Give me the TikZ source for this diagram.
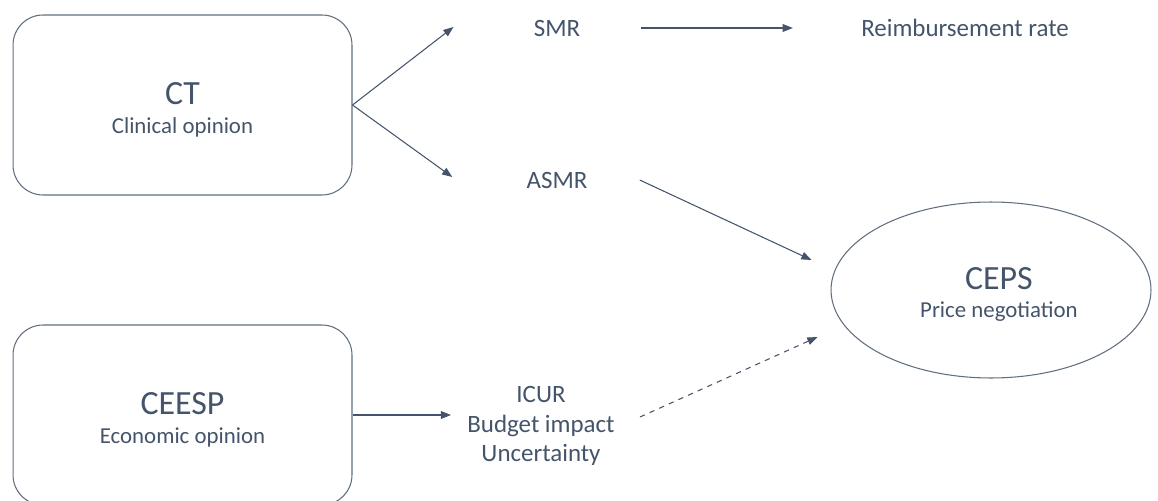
\documentclass[tikz,border=0pt]{standalone}
\usepackage{fontspec}
\setmainfont{Carlito}
\usepackage{tikz}
\usetikzlibrary{calc,arrows.meta,shapes.geometric}
\definecolor{slatec}{HTML}{44546A}
\colorlet{textcolor}{slatec}
\colorlet{edgecolor}{slatec!85!white}
\newcommand{\bodytitle}{\fontsize{19.3}{16}\selectfont}
\newcommand{\bodysub}{\fontsize{13}{16}\selectfont}
% title line, padded on top so the title sits on the centre line
\newcommand{\boxhead}[1]{{\bodytitle\rule{0pt}{18pt}#1}}
\tikzstyle{opinionbox} = [
    draw=edgecolor,
    line width=0.6pt,
    rectangle,
    rounded corners=17pt,
    minimum width=6.78cm,
    minimum height=3.6cm,
    text=textcolor,
    align=center,
    font=\bodysub
    ]
\tikzstyle{negobox} = [
    draw=edgecolor,
    line width=0.6pt,
    ellipse,
    inner sep=0pt,
    minimum width=6.4cm,
    minimum height=3.52cm,
    text=textcolor,
    align=center,
    font=\bodysub
    ]
\tikzstyle{outcome} = [
    text=textcolor,
    inner sep=0pt,
    align=center,
    font=\fontsize{14.2}{17}\selectfont
    ]
\tikzstyle{flow} = [
    draw=slatec,
    line width=0.6pt,
    -{Triangle[length=5.8pt,width=4.4pt]}
    ]

\begin{document}
\begin{tikzpicture}[x=0.02cm,y=-0.02cm]
\useasboundingbox (0,0) rectangle (1158,500);
\clip (0,0) rectangle (1158,500);

% opinions
\node [opinionbox] (ct) at (182.5,105) {\boxhead{CT}\\Clinical opinion};
\node [opinionbox] (ceesp) at (182.5,415) {\boxhead{CEESP}\\Economic opinion};
\node [negobox] (ceps) at (991,290) {\hspace*{9pt}\boxhead{CEPS}\\\hspace*{9pt}Price negotiation};

% outcomes
\node [outcome] (smr) at (557,28) {SMR};
\node [outcome] (asmr) at (557,180) {ASMR};
\node [outcome] (reimb) at (965,28) {Reimbursement rate};
\node [outcome] (icur) at (541,426) {ICUR\\Budget impact\\Uncertainty};

\draw [flow] (ct.east) -- ($(smr.west)+(-80,-1)$);
\draw [flow] (ct.east) -- ($(asmr.west)+(-74,-3)$);
\draw [flow] ($(smr.east)+(60,0)$) -- ($(reimb.west)+(-68,0)$);
\draw [flow] ($(asmr.east)+(52,0)$) -- ($(ceps.west)+(-19,-30)$);
\draw [flow] (ceesp.east) -- ($(ceesp.east -| icur.west)+(-16,0)$);
\draw [flow, dashed] ($(icur.east)+(25,-9)$) -- ($(ceps.west)+(-13,47)$);
\end{tikzpicture}
\end{document}
